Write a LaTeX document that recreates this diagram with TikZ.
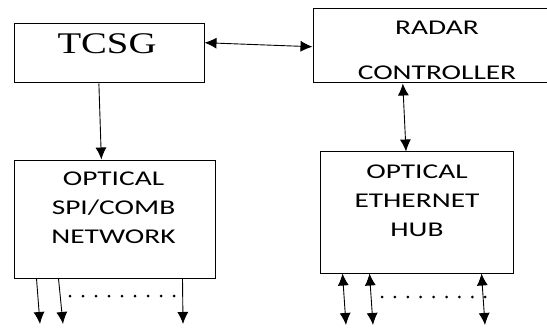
\documentclass[tikz,border=0pt]{standalone}
\usepackage{fontspec}
\setmainfont{Carlito}[FakeStretch=1.4]
\newfontfamily\tcsgfont{Liberation Serif}[FakeStretch=1.29]
\usetikzlibrary{calc,arrows.meta}
\tikzset{
  blk/.style={draw, line width=1pt, inner sep=0pt},
  lbl/.style={align=center, inner sep=0pt, font=\fontsize{21}{29}\selectfont},
  >={Latex[length=12pt,width=11pt]}
}

\begin{document}
\begin{tikzpicture}[x=1pt,y=-1pt,line width=0.9pt]
\useasboundingbox (0,0) rectangle (547,329);
% blocks
\node[blk, minimum width=190pt, minimum height=59pt] (tcsg) at (109,53.5) {};
\node[blk, minimum width=236pt, minimum height=74pt] (radar) at (431,46) {};
\node[blk, minimum width=201pt, minimum height=118pt] (spi) at (114.5,219) {};
\node[blk, minimum width=193pt, minimum height=121pt] (hub) at (416.5,212.5) {};
% labels
\node[inner sep=0pt, font=\tcsgfont\fontsize{30}{32}\selectfont] (tcsgtxt) at (107,44) {TCSG};
\node[lbl] (radartxt) at (437,50) {RADAR\\[16pt]CONTROLLER};
\node[lbl] (spitxt) at (113.5,208) {OPTICAL\\SPI/COMB\\NETWORK};
\node[lbl] (hubtxt) at (417,201) {OPTICAL\\ETHERNET\\HUB};
% links
\draw[<->] ($(tcsg.north east)!0.32!(tcsg.south east)$) -- ($(radar.north west)!0.51!(radar.south west)$);
\draw[->] ($(tcsg.south west)!0.447!(tcsg.south east)$) -- ($(spi.north west)!0.435!(spi.north east)$);
\draw[<->] ($(radar.south west)!0.381!(radar.south east)$) -- ($(hub.north west)!0.446!(hub.north east)$);
% outputs of the spi/comb network
\foreach \a/\b [count=\i] in {23/40, 45/63, 169/183} {
  \coordinate (so\i) at (\b,324);
  \draw[->] ([xshift=\a pt]spi.south west) -- (so\i);
}
\foreach \k in {0,...,8}
  \fill (70+13*\k,296) circle (1.5pt);
% ports of the hub
\foreach \a/\b [count=\i] in {23/346, 50/373, 162/485} {
  \coordinate (ho\i) at (\b,325);
  \draw[<->] ([xshift=\a pt]hub.south west) -- (ho\i);
}
\foreach \k in {0,...,8}
  \fill (382+12.9*\k,297) circle (1.5pt);
\end{tikzpicture}
\end{document}
